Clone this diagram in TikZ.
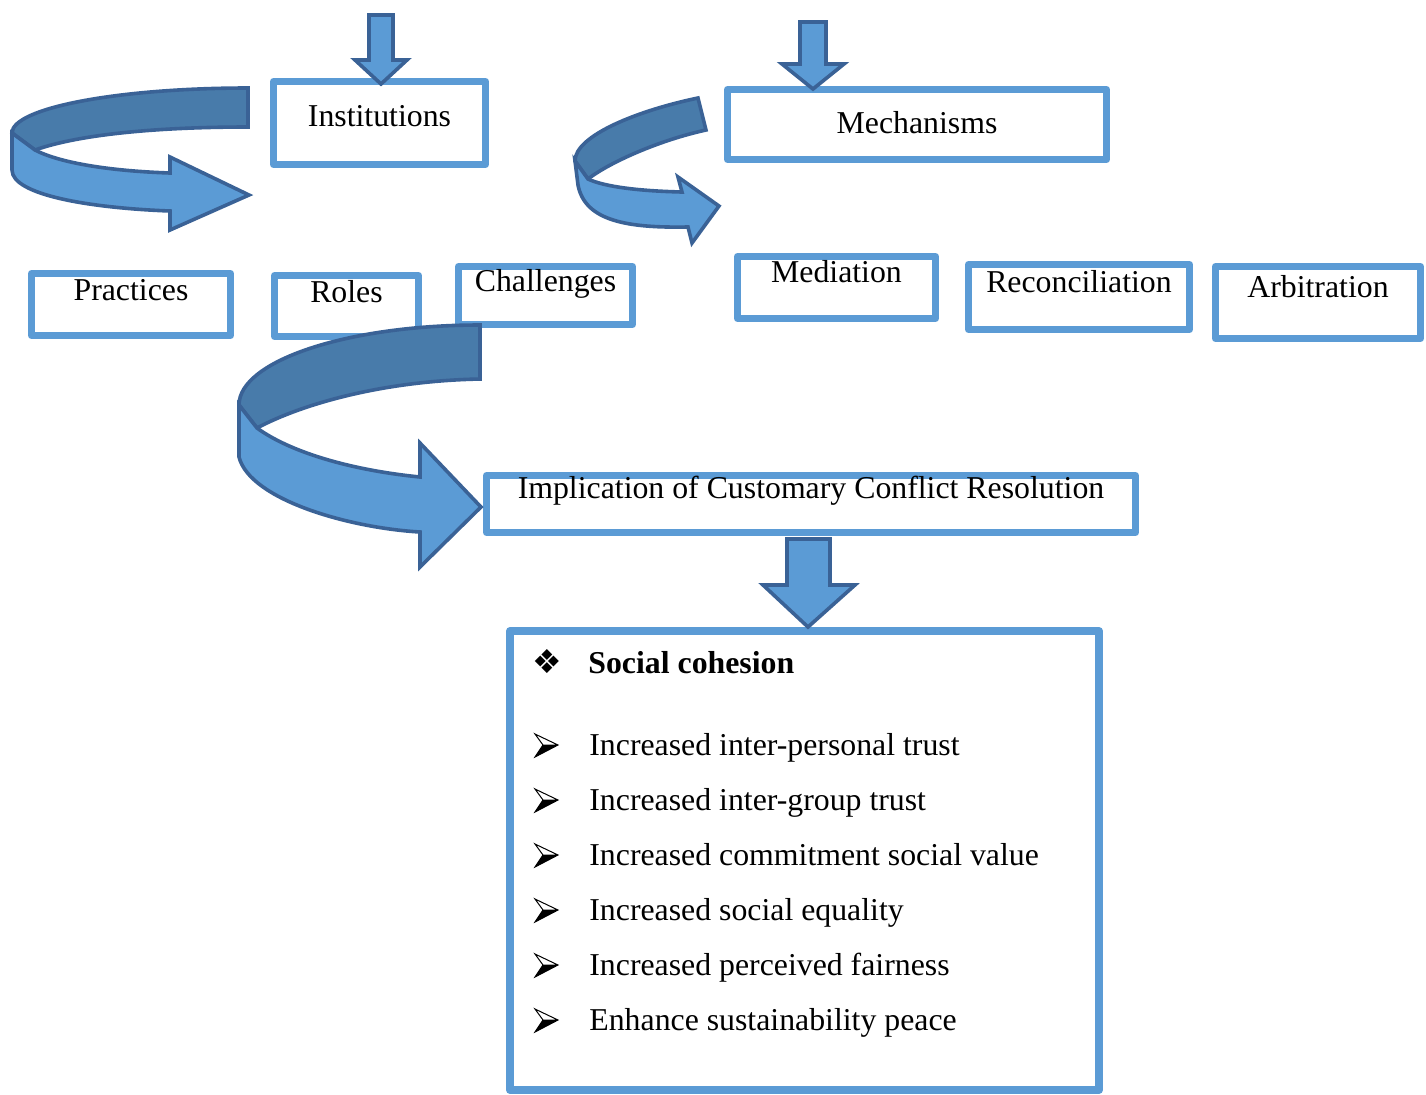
\documentclass[tikz,border=0pt]{standalone}
\usepackage{fontspec}
\setmainfont{Liberation Serif}
\newfontfamily\dingfont{DejaVu Sans}
\usetikzlibrary{calc}

\definecolor{boxblue}{HTML}{5B9BD5}
\definecolor{arrowblue}{HTML}{5B9BD5}
\definecolor{arrowdark}{HTML}{487BAA}
\definecolor{arrowline}{HTML}{3A6296}

\begin{document}
\begin{tikzpicture}[x=0.5pt, y=-0.5pt]
    % `box' is used for the text boxes, `effects' for the large list box.
    % `ribbon' and `ribbontop' are the two faces of the curved arrows.
    \tikzstyle{box} = [draw=boxblue,fill=white,line width=3.5pt,line join=round,
                       outer sep=0pt,inner ysep=0pt,anchor=north west,
                       font=\fontsize{15.9pt}{19pt}\selectfont]
    \tikzstyle{bigbox} = [box,line width=4pt]
    \tikzstyle{item} = [anchor=base west,inner sep=0pt,
                        font=\fontsize{15.9pt}{19pt}\selectfont]
    \tikzstyle{ribbon} = [fill=arrowblue,draw=arrowline,line width=1.8pt,line join=miter]
    \tikzstyle{ribbontop} = [ribbon,fill=arrowdark]
    \tikzstyle{blockarrow} = [ribbon]
    \useasboundingbox (0,0) rectangle (1426,1094);
    %
    \node[box,minimum width=106pt,text height=22.25pt,text depth=19.25pt] (inst) at (273.5,81.5) {Institutions};
    \node[box,minimum width=189.5pt,text height=21.75pt,text depth=13.25pt] (mech) at (727.5,89.5) {Mechanisms};

    \node[box,minimum width=99.5pt,text height=13.25pt,text depth=17.75pt] (prac) at (31.5,273.5) {Practices};
    \node[box,minimum width=72pt,text height=13.25pt,text depth=17.25pt] (roles) at (274.5,275.5) {Roles};
    \node[box,minimum width=87pt,text height=12.25pt,text depth=16.75pt] (chal) at (458.5,266.5) {Challenges};

    \node[box,minimum width=99pt,text height=12.75pt,text depth=18.25pt] (medi) at (737.5,256.5) {Mediation};
    \node[box,minimum width=110.5pt,text height=13.75pt,text depth=18.75pt] (reco) at (968.5,264.5) {Reconciliation};
    \node[box,minimum width=102.5pt,text height=15.25pt,text depth=20.75pt] (arbi) at (1215.5,266.5) {Arbitration};

    \node[box,minimum width=324.5pt,text height=11.25pt,text depth=17.25pt] (impl) at (486.5,475.5) {Implication of Customary Conflict Resolution};

    \node[bigbox,minimum width=294.5pt,minimum height=229.5pt] (effects) at (510,631) {};
    \node[item] (cohesion) at (532,673) {\makebox[28pt][l]{\dingfont\fontsize{16.5pt}{16.5pt}\selectfont ❖}\textbf{Social cohesion}};
    \foreach \txt [count=\i from 0] in {Increased inter-personal trust,Increased inter-group trust,
        Increased commitment social value,Increased social equality,
        Increased perceived fairness,Enhance sustainability peace}
    {
      % arrowhead bullet: white upper face, black lower face
      \fill (543,745+55*\i) -- (558,745+55*\i) -- (535,757+55*\i) -- cycle;
      \draw[line width=0.5pt,line join=miter] (535,734+55*\i) -- (558,745+55*\i)
          -- (535,757+55*\i) -- (543,745+55*\i) -- cycle (543,745+55*\i) -- (558,745+55*\i);
      \node[item] (eff\i) at (589,755+55*\i) {\txt};
    }

    % Straight block arrows.
    \draw[blockarrow] (369,15) -- (393,15) -- (393,60) -- (407,60) -- (381,84) -- (355,60) -- (369,60) -- cycle;
    \draw[blockarrow] (800,22) -- (826,22) -- (826,64) -- (844,64) -- (813,89) -- (782,64) -- (800,64) -- cycle;
    \draw[blockarrow] (787,539) -- (830,539) -- (830,585) -- (855,585) -- (808,627) -- (763,585) -- (787,585) -- cycle;

    % Curved arrow towards Practices, Roles and Challenges.
    \draw[ribbontop] (248,88) .. controls (118,88) and (12,108) .. (12,133)
        -- (35,150) .. controls (80,134) and (160,127) .. (248,127) -- cycle;
    \draw[ribbon] (12,133) -- (12,170) .. controls (12,195) and (90,208) .. (170,211)
        -- (170,230) -- (249,195) -- (170,157) -- (170,173)
        .. controls (110,171) and (60,163) .. (35,150) -- cycle;

    % Curved arrow towards Mediation, Reconciliation and Arbitration.
    \draw[ribbontop] (698,98) .. controls (640,110) and (575,135) .. (575,161)
        -- (588,179) .. controls (610,162) and (660,140) .. (706,130) -- cycle;
    \draw[ribbon] (575,161) -- (578,185) .. controls (585,222) and (630,228) .. (688,227)
        -- (692,243) -- (719,206) -- (678,177) -- (682,192)
        .. controls (640,191) and (605,187) .. (588,179) -- cycle;

    % Curved arrow towards the implication box.
    \draw[ribbontop] (480,325) .. controls (347,325) and (239,361) .. (239,405)
        -- (257,428) .. controls (300,405) and (380,381) .. (480,379) -- cycle;
    \draw[ribbon] (239,405) -- (239,457) .. controls (250,500) and (350,528) .. (420,532)
        -- (420,567) -- (481,507) -- (420,443) -- (420,477)
        .. controls (350,470) and (290,452) .. (257,428) -- cycle;
\end{tikzpicture}
\end{document}
